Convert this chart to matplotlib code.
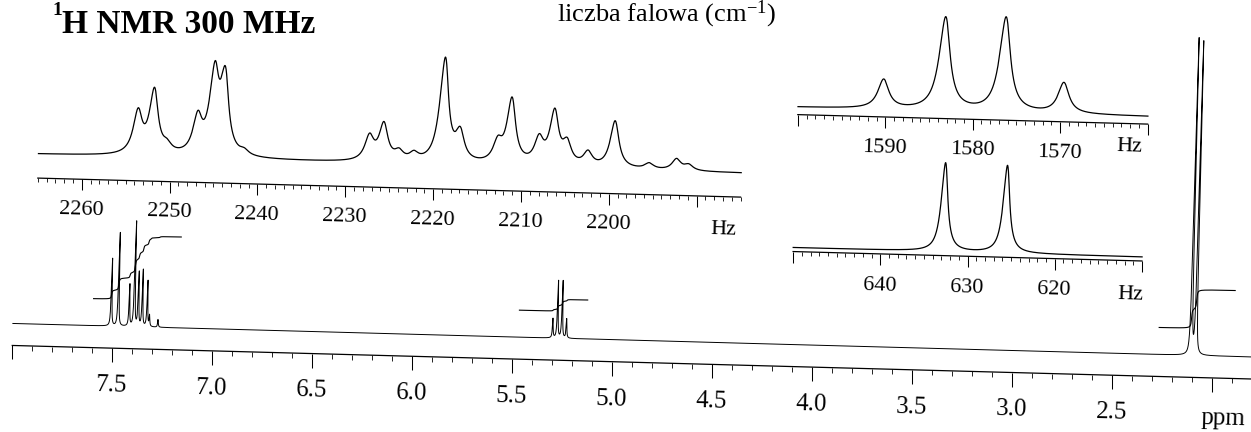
import numpy as np
import matplotlib
matplotlib.use('Agg')
import matplotlib.pyplot as plt
from matplotlib.artist import Artist
from matplotlib.text import Text
from matplotlib.transforms import Affine2D
from matplotlib.ticker import FixedLocator, MultipleLocator

plt.rcParams['font.family'] = ['Liberation Serif', 'DejaVu Serif']
plt.rcParams['mathtext.fontset'] = 'custom'
plt.rcParams['mathtext.rm'] = 'Liberation Serif'
plt.rcParams['mathtext.it'] = 'Liberation Serif:italic'
plt.rcParams['mathtext.bf'] = 'Liberation Serif:bold'

W, H = 1251, 432      # canvas size in px at dpi 100
TILT = -1.55          # the printed page is slightly skewed
MHZ = 300.0

# full spectrum: aromatic lines (ppm) and apparent heights
arom_ppm = [7.510, 7.475, 7.420, 7.395, 7.375, 7.355, 7.330, 7.318, 7.275]
arom_hgt = [68, 94, 43, 106, 56, 58, 47, 13, 8]
# CH quartet and CH3 doublet (Hz at 300 MHz)
quart_hz = [1590.3, 1583.4, 1576.5, 1569.7]
quart_main_hgt = [20, 58, 58, 20]
doub_hz = [632.8, 625.7]
doub_main_hgt = [318, 315]
# integral steps: (ppm from, ppm to, rise)
integ_regions = [(7.60, 7.17, 64), (5.47, 5.13, 12), (2.27, 1.895, 39)]
integ_base = 27

# expansion of the aromatic multiplet
ar_hz = [2253.8, 2252.0, 2250.4, 2247.0, 2245.2, 2244.0, 2241.6, 2227.4,
         2225.8, 2224.0, 2222.3, 2219.0, 2217.1, 2212.8, 2211.3, 2208.1,
         2206.4, 2204.9, 2202.5, 2199.5, 2195.5, 2192.4, 2191.0]
ar_hgt = [49, 70, 19, 48, 98, 93, 12, 30, 42, 16, 14, 108, 39, 31, 70, 34,
          60, 31, 19, 49, 8, 13, 8]
# expansions of the quartet and the doublet
quart_hgt = [30.5, 94.5, 96, 32]
doub_hgt = [89, 88]

ar_labels = [2260, 2250, 2240, 2230, 2220, 2210, 2200]
quart_labels = [1590, 1580, 1570]
doub_labels = [640, 630, 620]
main_labels = [7.5, 7.0, 6.5, 6.0, 5.5, 5.0, 4.5, 4.0, 3.5, 3.0, 2.5]


def lorentz(x, x0, hw):
    return hw ** 2 / ((x - x0) ** 2 + hw ** 2)


def spectrum(x, pos, hgt, hw):
    # pick line amplitudes so the summed curve passes through the heights
    pos = np.asarray(pos, float)
    A = lorentz(pos[:, None], pos[None, :], hw)
    amp = np.clip(np.linalg.solve(A, np.asarray(hgt, float)), 0, None)
    return sum(a * lorentz(x, p, hw) for a, p in zip(amp, pos))


fig = plt.figure(figsize=(W / 100, H / 100), dpi=100)


def px_axes(x0, x1, y_top, y_bot):
    a = fig.add_axes([x0 / W, 1 - y_bot / H, (x1 - x0) / W, (y_bot - y_top) / H])
    a.patch.set_visible(False)
    for s in ('left', 'right', 'top'):
        a.spines[s].set_visible(False)
    a.spines['bottom'].set_linewidth(0.9)
    a.set_yticks([])
    return a


def set_scale(a, majors, labels, fmt, minor, big, small, pad, size):
    a.xaxis.set_major_locator(FixedLocator(majors))
    a.xaxis.set_minor_locator(MultipleLocator(minor))
    a.set_xticklabels([fmt(v) if any(abs(v - l) < 1e-6 for l in labels) else ''
                       for v in majors])
    a.tick_params(axis='x', which='major', length=big, width=0.75, pad=pad,
                  labelsize=size, direction='out')
    a.tick_params(axis='x', which='minor', length=small, width=0.6,
                  direction='out')


# ---- main spectrum ----
ax = px_axes(16, 1265, 0, 362)
ax.set_xlim(8.0, 8.0 - (1265 - 16) / 200)
ax.set_ylim(-22, 340)
ppm = np.linspace(1.70, 8.0, 90000)
hw_ppm = 0.0022
pos_main = arom_ppm + [h / MHZ for h in quart_hz] + [h / MHZ for h in doub_hz]
hgt_main = arom_hgt + quart_main_hgt + doub_main_hgt
y_main = spectrum(ppm, pos_main, hgt_main, hw_ppm)
ax.plot(ppm, y_main, color='black', lw=0.7)
for hi, lo, rise in integ_regions:
    m = (ppm >= lo) & (ppm <= hi)
    c = np.cumsum(y_main[m][::-1])[::-1]
    ax.plot(ppm[m], integ_base + rise * c / c.max(), color='black', lw=0.8)
set_scale(ax, np.arange(2.0, 8.01, 0.5), main_labels, lambda v: f'{v:.1f}',
          0.1, 10, 3.6, 8.6, 18)
ax.text(1.94, -62, 'ppm', ha='center', va='center', fontsize=18)

# ---- aromatic expansion ----
ax_ar = px_axes(37, 740, 40, 194)
ax_ar.set_xlim(2265, 2185)
ax_ar.set_ylim(-24, 130)
hz = np.linspace(2185, 2265, 6000)
ax_ar.plot(hz, spectrum(hz, ar_hz, ar_hgt, 0.6), color='black', lw=0.9)
set_scale(ax_ar, np.arange(2190, 2261, 10), ar_labels, lambda v: f'{v:.0f}',
          1, 8, 3.2, 7, 16)
ax_ar.text(2186.8, -57, 'Hz', ha='center', va='center', fontsize=16)

# ---- quartet expansion ----
ax_q = px_axes(795, 1145, 0, 110)
ax_q.set_xlim(1600, 1560)
ax_q.set_ylim(-7.5, 102.5)
hz = np.linspace(1560, 1600, 4000)
ax_q.plot(hz, spectrum(hz, quart_hz, quart_hgt, 0.75), color='black', lw=0.9)
set_scale(ax_q, np.arange(1560, 1601, 10), quart_labels, lambda v: f'{v:.0f}',
          1, 8, 3.2, 7, 16)
ax_q.text(1562, -31, 'Hz', ha='center', va='center', fontsize=16)

# ---- doublet expansion ----
ax_d = px_axes(794, 1143, 145, 247)
ax_d.set_xlim(650, 610)
ax_d.set_ylim(-4, 98)
hz = np.linspace(610, 650, 4000)
ax_d.plot(hz, spectrum(hz, doub_hz, doub_hgt, 0.45), color='black', lw=0.9)
set_scale(ax_d, np.arange(610, 651, 10), doub_labels, lambda v: f'{v:.0f}',
          1, 8, 3.2, 7.7, 16)
ax_d.text(611.2, -38, 'Hz', ha='center', va='center', fontsize=16)

# skew everything drawn inside the four panels
fig.canvas.draw()
tilt = Affine2D().rotate_deg_around(W / 2, H / 2, TILT)
for a in (ax, ax_ar, ax_q, ax_d):
    for art in set(a.findobj()):
        if art is a or art is a.patch:
            continue
        art.set_transform(Artist.get_transform(art) + tilt)
        art.set_clip_on(False)
        if isinstance(art, Text):
            art.set_rotation(TILT)

# page headings
fig.text(52 / W, 1 - 2 / H, '1', fontsize=14, fontweight='bold', va='top')
fig.text(62 / W, 1 - 33 / H, 'H NMR 300 MHz', fontsize=24, fontweight='bold',
         va='baseline')
fig.text(557 / W, 1 - 21 / H, 'liczba falowa (cm$^{-1}$)', fontsize=19,
         va='baseline')

fig.savefig('out.png', dpi=100)
